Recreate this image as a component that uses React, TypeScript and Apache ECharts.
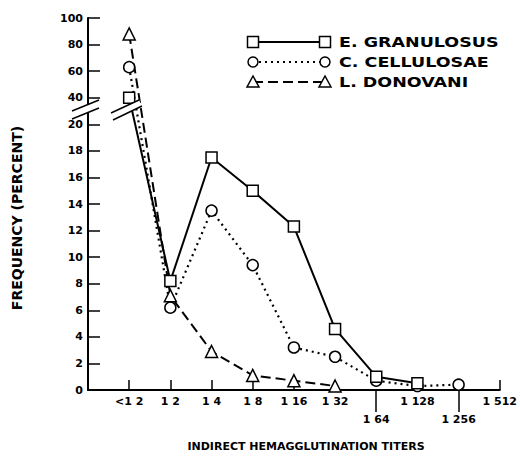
import React, { useEffect, useRef } from "react";
import * as echarts from "echarts";

// ---- data ----
const categories = ["<1 2", "1 2", "1 4", "1 8", "1 16", "1 32", "1 64", "1 128", "1 256", "1 512"];
const granulosus = [40, 8.2, 17.5, 15.0, 12.3, 4.6, 1.0, 0.5];
const cellulosae = [63, 6.2, 13.5, 9.4, 3.2, 2.5, 0.7, 0.3, 0.4];
const donovani = [88, 7.1, 2.9, 1.1, 0.7, 0.3];
const seriesNames = ["E. GRANULOSUS", "C. CELLULOSAE", "L. DONOVANI"];
const upperTickLabels = [40, 60, 80, 100];
const mainTickIdx = [0, 1, 2, 3, 4, 5, 7, 9];
const lowTickIdx = [6, 8];

// broken axis: 0-20 normal, 20-100 compressed 10x
const BREAK = 20;
const UPPER_SCALE = 10;
const toAxis = (v: number) => (v <= BREAK ? v : BREAK + (v - BREAK) / UPPER_SCALE);
const fromAxis = (t: number) => (t <= BREAK ? t : BREAK + (t - BREAK) * UPPER_SCALE);

const FONT = "DejaVu Sans";

export default function App() {
  const ref = useRef<HTMLDivElement>(null);
  useEffect(() => {
    if (!ref.current) return;
    const chart = echarts.init(ref.current, undefined, { renderer: "svg" });
    const toPts = (arr: number[]) => arr.map((v, i) => [i, toAxis(v)]);
    const labelStyle = { color: "#000", fontFamily: FONT, fontWeight: "bold" as const, fontSize: 11 };

    const legendRows = seriesNames.map((name, i) => {
      const y = 42 + i * 20;
      const x1 = 253, x2 = 325;
      const dash = i === 0 ? undefined : i === 1 ? [2, 4] : [10, 5];
      const marker = (cx: number) =>
        i === 0
          ? { type: "rect", shape: { x: cx - 5.5, y: y - 5.5, width: 11, height: 11 }, style: { fill: "#fff", stroke: "#000", lineWidth: 1.5 } }
          : i === 1
          ? { type: "circle", shape: { cx, cy: y, r: 5 }, style: { fill: "#fff", stroke: "#000", lineWidth: 1.5 } }
          : { type: "polygon", shape: { points: [[cx, y - 6], [cx - 6, y + 5], [cx + 6, y + 5]] }, style: { fill: "#fff", stroke: "#000", lineWidth: 1.5 } };
      return [
        { type: "line", shape: { x1, y1: y, x2, y2: y }, style: { stroke: "#000", lineWidth: 2, lineDash: dash } },
        marker(x1),
        marker(x2),
        { type: "text", x: 339, y, scaleX: 1.25, style: { text: name, fill: "#000", font: `bold 14px "${FONT}"`, verticalAlign: "middle", align: "left" } },
      ];
    }).flat();

    const slash = (x1: number, y1: number, x2: number, y2: number) => ({
      type: "line", z: 110, shape: { x1, y1, x2, y2 }, style: { stroke: "#000", lineWidth: 1.5 },
    });
    const mask = (pts: number[][]) => ({ type: "polygon", z: 105, shape: { points: pts }, style: { fill: "#fff" } });

    chart.setOption({
      animation: false,
      backgroundColor: "#fff",
      grid: { left: 88, right: 15, top: 18, bottom: 72, containLabel: false },
      xAxis: [
        {
          type: "value", min: -1, max: 9, interval: 1, position: "bottom",
          axisLine: { lineStyle: { color: "#000", width: 2 } },
          axisTick: { show: true, inside: true, length: 10, lineStyle: { color: "#000", width: 1.5 }, customValues: mainTickIdx },
          axisLabel: { ...labelStyle, margin: 6, customValues: mainTickIdx, formatter: (v: number) => categories[v] ?? "" },
          splitLine: { show: false },
        },
        {
          type: "value", min: -1, max: 9, interval: 1, position: "bottom",
          axisLine: { show: false },
          axisTick: { show: true, inside: false, length: 22, lineStyle: { color: "#000", width: 1.5 }, customValues: lowTickIdx },
          axisLabel: { ...labelStyle, margin: 24, customValues: lowTickIdx, formatter: (v: number) => categories[v] ?? "" },
          splitLine: { show: false },
        },
      ],
      yAxis: {
        type: "value", min: 0, max: toAxis(100), interval: 2,
        axisLine: { show: true, onZero: false, lineStyle: { color: "#000", width: 2 } },
        axisTick: { show: true, inside: true, length: 12, lineStyle: { color: "#000", width: 1.5 } },
        axisLabel: { ...labelStyle, margin: 5, formatter: (v: number) => {
          const r = Math.round(fromAxis(v));
          return v > BREAK && !upperTickLabels.includes(r) ? "" : String(r);
        } },
        splitLine: { show: false },
      },
      series: [
        {
          name: seriesNames[0], type: "line", data: toPts(granulosus), symbol: "rect", symbolSize: 11,
          itemStyle: { color: "#fff", borderColor: "#000", borderWidth: 1.5 },
          lineStyle: { color: "#000", width: 2, type: "solid" }, z: 3,
        },
        {
          name: seriesNames[1], type: "line", data: toPts(cellulosae), symbol: "circle", symbolSize: 11,
          itemStyle: { color: "#fff", borderColor: "#000", borderWidth: 1.5 },
          lineStyle: { color: "#000", width: 2.2, type: [2, 4] }, z: 2,
        },
        {
          name: seriesNames[2], type: "line", data: toPts(donovani), symbol: "triangle", symbolSize: 12,
          itemStyle: { color: "#fff", borderColor: "#000", borderWidth: 1.5 },
          lineStyle: { color: "#000", width: 2, type: [10, 5] }, z: 2,
        },
      ],
      graphic: [
        ...legendRows,
        // axis break
        mask([[72, 111], [99, 100], [99, 108], [72, 119]]),
        slash(72, 111, 99, 100),
        slash(72, 119, 99, 108),
        // data break
        mask([[111, 113], [139, 100], [142, 106], [113, 120]]),
        slash(111, 113, 139, 100),
        slash(113, 120, 142, 106),
        { type: "text", x: 306, y: 446, style: { text: "INDIRECT HEMAGGLUTINATION TITERS", fill: "#000", font: `bold 11px "${FONT}"`, align: "center", verticalAlign: "middle" } },
        { type: "text", x: 17, y: 218, rotation: Math.PI / 2, style: { text: "FREQUENCY (PERCENT)", fill: "#000", font: `bold 14px "${FONT}"`, align: "center", verticalAlign: "middle" } },
      ],
    });
    return () => chart.dispose();
  }, []);
  return <div ref={ref} style={{ position: "fixed", left: 0, top: 0, width: 520, height: 462 }} />;
}
